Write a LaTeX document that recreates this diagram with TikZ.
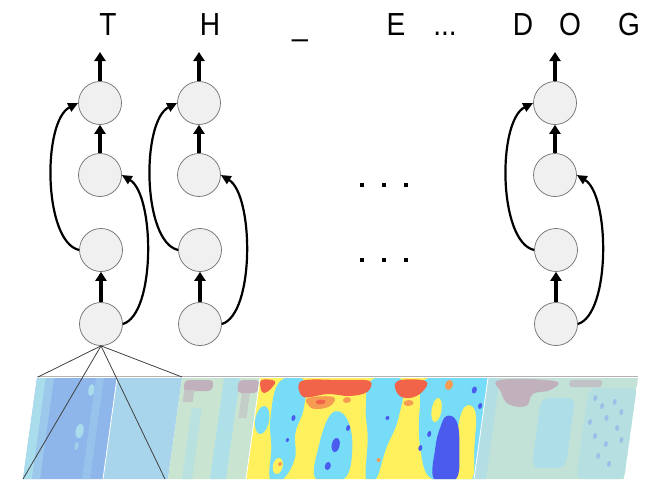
\documentclass[tikz,border=0pt]{standalone}
\usepackage{fontspec}
\setmainfont{Liberation Sans}
\usetikzlibrary{arrows.meta}
% unit colours
\definecolor{nodefill}{HTML}{F0F0F0}
\definecolor{nodeline}{HTML}{6E6E6E}
% spectrogram colours
\definecolor{sbA}{HTML}{8FB6EA}
\definecolor{sbB}{HTML}{A9D5EC}
\definecolor{sbC}{HTML}{C9E5D2}
\definecolor{sbE}{HTML}{C2E2D8}
\definecolor{sbPale}{HTML}{A9DDEC}
\definecolor{sbMauve}{HTML}{BFA8B8}
\definecolor{sbDots}{HTML}{9DBFE8}
\definecolor{jy}{HTML}{FFF15E}
\definecolor{jc}{HTML}{76DCF8}
\definecolor{jb}{HTML}{4B5BEE}
\definecolor{jr}{HTML}{F2644A}
\definecolor{jo}{HTML}{F59C52}
\newcommand{\tallglyph}[1]{\scalebox{0.97}[1.1]{#1}}
\begin{document}
\begin{tikzpicture}[x=1pt,y=-1pt,
  unit/.style={circle, draw=nodeline, fill=nodefill, line width=0.7pt,
               minimum size=43pt, inner sep=0pt},
  flow/.style={line width=3.4pt, -{Triangle[length=9pt,width=11pt]}},
  loopback/.style={line width=2.2pt, -{Triangle[length=10pt,width=9pt]}},
  letter/.style={anchor=base, font=\fontsize{29}{32}\selectfont, inner sep=0pt},
  dot/.style={rectangle, fill=black, minimum size=4pt, inner sep=0pt},
  field/.style={draw=black!75, line width=0.8pt}
]
\useasboundingbox (0,0) rectangle (650,479);
\fill[white] (0,0) rectangle (650,479);

% ---------- spectrogram strip (drawn unsheared, then slanted) ----------
\begin{scope}[shift={(0,378)}, xslant=0.1386]
  \draw[black!30, line width=1.6pt] (37,-1.5) -- (638,-1.5);
  % panel 1
  \begin{scope}
    \clip (37,0) rectangle (117,101);
    \fill[sbA] (37,0) rectangle (117,101);
    \fill[sbPale] (37,0) rectangle (46,101);
    \fill[sbPale!50!sbA] (46,0) rectangle (54,101);
    \fill[sbPale] (93,12) ellipse (3 and 6);
    \fill[sbPale] (87,53) ellipse (4 and 7);
    \fill[sbPale!70!sbA] (86,68) ellipse (2 and 4);
    \fill[sbPale!30!sbA] (96,0) rectangle (104,101);
  \end{scope}
  % panel 2
  \fill[sbB] (117,0) rectangle (182,101);
  % panel 3
  \begin{scope}
    \clip (182,0) rectangle (260,101);
    \fill[sbC] (182,0) rectangle (260,101);
    \fill[sbPale!80!sbC] (224,0) rectangle (240,101);
    \fill[sbPale!50!sbC] (196,30) rectangle (206,101);
    \fill[sbMauve!85!sbC, rounded corners=4pt] (185,2) rectangle (214,13);
    \fill[sbMauve!50!sbC] (186,12) rectangle (196,24);
    \fill[sbMauve!85!sbC, rounded corners=4pt] (239,2) rectangle (260,15);
    \fill[sbMauve!40!sbC] (244,15) rectangle (252,40);
  \end{scope}
  % panel 4 (bright)
  \begin{scope}
    \clip (260,0) rectangle (488,101);
    \fill[jy] (260,0) rectangle (488,101);
    % cyan bands
    \fill[jc] plot[smooth cycle, tension=0.7] coordinates
      {(280,4) (304,2) (308,30) (303,55) (306,80) (297,101) (284,101) (281,70) (276,40)};
    \fill[jc] (268,42) ellipse (7 and 14);
    \fill[jc] plot[smooth cycle, tension=0.7] coordinates
      {(336,36) (352,40) (362,70) (358,101) (330,101) (328,70)};
    \fill[jc] plot[smooth cycle, tension=0.7] coordinates
      {(372,2) (402,2) (404,40) (396,70) (390,101) (380,101) (376,60) (370,30)};
    \fill[jc] plot[smooth cycle, tension=0.6] coordinates
      {(428,0) (490,0) (490,101) (446,101) (430,70) (424,30)};
    \fill[jy] plot[smooth cycle, tension=0.7] coordinates
      {(468,30) (480,34) (484,70) (486,101) (470,101) (465,60)};
    \fill[jy] (441,32) ellipse (5 and 12);
    \fill[jy] (318,60) ellipse (6 and 14);
    \fill[jy] (290,88) ellipse (5 and 8);
    % blue areas
    \fill[jb] plot[smooth cycle, tension=0.7] coordinates
      {(452,38) (463,44) (469,70) (470,101) (448,101) (445,70) (447,50)};
    \fill[jb] (345,67) ellipse (4 and 7);
    \fill[jb] (299,40) ellipse (2 and 3);
    \fill[jb] (340,88) ellipse (3 and 4);
    \fill[jb] (430,70) ellipse (2 and 3);
    \fill[jb] (476,12) ellipse (2.5 and 3.5);
    \fill[jb] (484,28) ellipse (2 and 3);
    \fill[jb] (393,40) ellipse (2 and 2);
    \fill[jb] (355,50) ellipse (2 and 3);
    \fill[jb] (437,56) ellipse (2 and 3);
    \fill[jb] (296,62) ellipse (1.5 and 2);
    % red / orange blobs
    \fill[jr] plot[smooth cycle, tension=0.7] coordinates
      {(262,2) (275,3) (273,10) (266,15) (262,10)};
    \fill[jr] plot[smooth cycle, tension=0.6] coordinates
      {(302,3) (340,2) (370,3) (369,14) (352,18) (330,16) (306,19)};
    \fill[jo] plot[smooth cycle, tension=0.7] coordinates
      {(311,20) (336,19) (334,28) (320,31) (312,27)};
    \fill[jr] (324,24) ellipse (5 and 2.5);
    \fill[jr] plot[smooth cycle, tension=0.7] coordinates
      {(398,3) (426,3) (424,14) (412,20) (400,16)};
    \fill[jo] (412,25) ellipse (5 and 3);
    \fill[jo] (450,7) ellipse (4 and 5);
    \fill[jo] (350,22) ellipse (4 and 3);
    \fill[jo] (292,86) ellipse (2 and 2);
    \fill[jo] (390,82) ellipse (2 and 2);
  \end{scope}
  % panel 5
  \begin{scope}
    \clip (488,0) rectangle (638,101);
    \fill[sbE] (488,0) rectangle (638,101);
    \fill[sbPale!60!sbE] (488,0) rectangle (500,101);
    \fill[sbPale!80!sbE, rounded corners=8pt] (544,20) rectangle (578,90);
    \fill[sbPale!50!sbE, rounded corners=8pt] (590,10) rectangle (640,101);
    \fill[sbMauve!85!sbE] plot[smooth cycle, tension=0.7] coordinates
      {(500,2) (555,3) (552,12) (535,16) (530,28) (512,26) (503,14)};
    \fill[sbMauve!55!sbE, rounded corners=3pt] (570,2) rectangle (603,9);
    \foreach \px/\py in {598/20,606/28,612/40,618/24,624/50,603/58,615/66,
                         626/34,609/78,596/44,621/86,630/62}
      \fill[sbDots] (\px,\py) ellipse (2 and 3);
  \end{scope}
  % seams between panels
  \draw[white, line width=0.8pt] (117,0) -- (117,101);
  \draw[white, line width=0.8pt] (260,0) -- (260,101);
  \draw[white, line width=0.8pt] (488,0) -- (488,101);
\end{scope}

% ---------- output letters ----------
\node[letter] (lT) at (108,35) {\tallglyph{T}};
\node[letter] (lH) at (210,35) {\tallglyph{H}};
\node[letter] (lU) at (300,35) {\tallglyph{\_}};
\node[letter] (lE) at (396,35) {\tallglyph{E}};
\node[letter] (lX) at (445,35) {\tallglyph{...}};
\node[letter] (lD) at (523,35) {\tallglyph{D}};
\node[letter] (lO) at (570,35) {\tallglyph{O}};
\node[letter] (lG) at (629,35) {\tallglyph{G}};

% ---------- recurrent columns ----------
\foreach \c/\x in {a/100, b/199, c/555} {
  \node[unit] (\c1) at (\x,103) {};
  \node[unit] (\c2) at (\x,175) {};
  \node[unit] (\c3) at (\x+1,250) {};
  \node[unit] (\c4) at (\x+1,324) {};
  \coordinate (\c0) at (\x,52);
  \draw[flow] (\c1.north) -- (\c0);
  \draw[flow] (\c2.north) -- (\c1.south);
  \draw[flow] (\c4.north) -- (\c3.south);
  \draw[loopback] (\c3.west) .. controls +(-36,-8) and +(-36,18) .. (\c1.west);
  \draw[loopback] (\c4.east) .. controls +(33,-10) and +(33,20) .. (\c2.east);
}

% ---------- ellipsis between columns ----------
\foreach \i/\x in {1/362, 2/384, 3/406} {
  \node[dot] (u\i) at (\x,185) {};
  \node[dot] (v\i) at (\x,260) {};
}

% ---------- receptive field of the first unit ----------
\coordinate (f1) at (38,377);
\coordinate (f2) at (182,377);
\coordinate (f3) at (23,479);
\coordinate (f4) at (165,479);
\foreach \k in {1,...,4}
  \draw[field] (a4.south) -- (f\k);
\end{tikzpicture}
\end{document}
